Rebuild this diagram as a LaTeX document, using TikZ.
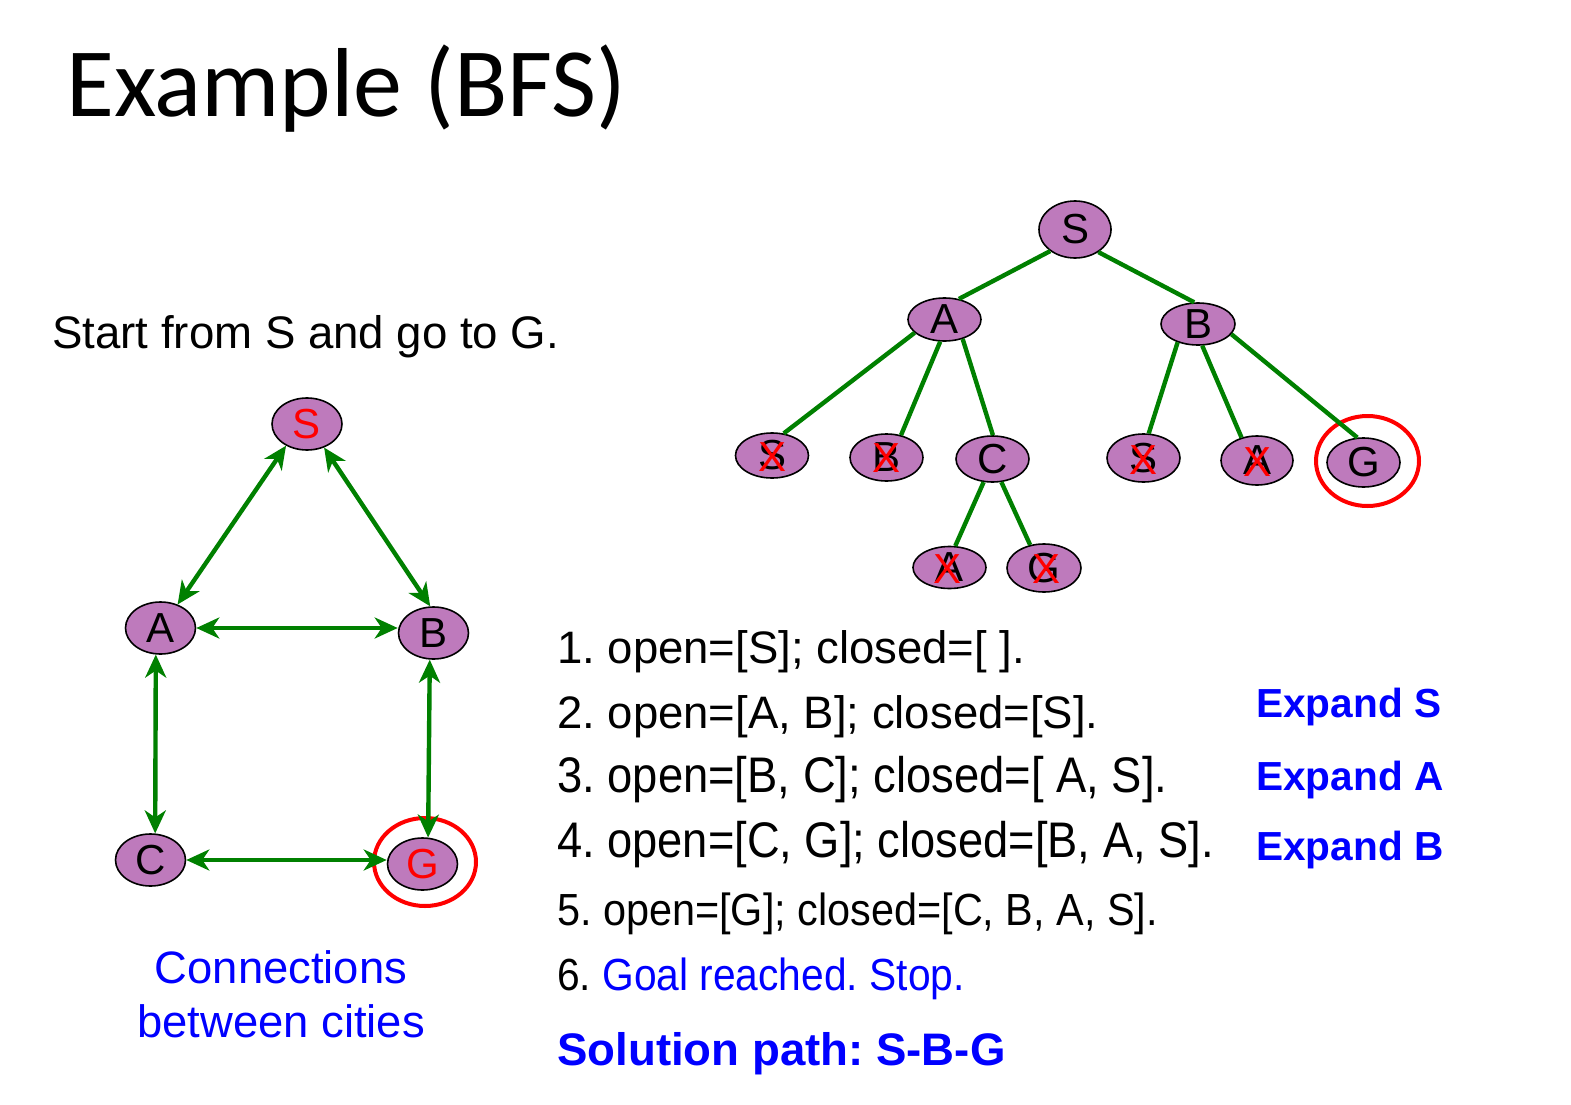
\documentclass[tikz,border=0pt]{standalone}
\usepackage{fontspec}
\usepackage{graphicx}
\setmainfont{Liberation Sans}
\newfontfamily\headfont{Carlito}
\usetikzlibrary{shapes.geometric,arrows.meta}
\definecolor{vfill}{RGB}{190,122,188}
\definecolor{edgegreen}{RGB}{0,128,0}
\definecolor{textblue}{RGB}{0,0,255}
\newcommand\fsz[1]{\fontsize{#1}{#1}\selectfont}
\frenchspacing

\begin{document}
\begin{tikzpicture}[x=1pt,y=-1pt,
  vertex/.style={ellipse, draw=black, line width=1.6pt, fill=vfill, inner sep=0pt, font=\fsz{42}},
  tedge/.style={draw=edgegreen, line width=4.4pt},
  link/.style={tedge, {Stealth[length=23pt,width=21pt,inset=7pt]}-{Stealth[length=23pt,width=21pt,inset=7pt]}},
  cross/.style={text=red, inner sep=0pt, font=\fsz{42}},
  ring/.style={ellipse, draw=red, line width=4pt, inner sep=0pt},
  txt/.style={anchor=base west, inner sep=0pt},
  capt/.style={anchor=base, inner sep=0pt, text=textblue, font=\fsz{45.4}},
  hint/.style={txt, text=textblue, font=\fsz{40.6}\bfseries},
]
\useasboundingbox (0,0) rectangle (1571,1105);

% heading and task
\node[txt, font=\headfont\fsz{98}] (title) at (66,117) {Example (BFS)};
\node[txt, font=\fsz{45.6}] (task) at (52,348) {Start from S and go to G.};

% ---- city map ----
\node[vertex, minimum width=70pt, minimum height=52pt, text=red] (gS) at (307,424) {S};
\node[vertex, minimum width=70pt, minimum height=52pt] (gA) at (160.5,628) {A};
\node[vertex, minimum width=70pt, minimum height=52pt] (gB) at (433.5,633) {B};
\node[vertex, minimum width=70pt, minimum height=52pt] (gC) at (150.5,860) {C};
\node[vertex, minimum width=70pt, minimum height=52pt, text=red] (gG) at (422.5,864) {G};
\node[ring, minimum width=102pt, minimum height=88pt] (ringL) at (425,862) {};

\draw[link] (gS.226) -- (gA.54);
\draw[link] (gS.306) -- (gB.97);
\draw[link] (gA.east) -- (gA.east -| gB.west);
\draw[link] (gA.260) -- (gC.80);
\draw[link] (gB.262) -- (gG.78);
\draw[link] (gC.east) -- (gC.east -| gG.west);

\node[capt] (cap1) at (281,983) {Connections};
\node[capt] (cap2) at (281,1037) {between cities};

% ---- search tree ----
\node[vertex, minimum width=72pt, minimum height=57pt] (tS) at (1075,229.5) {S};
\node[vertex, minimum width=73pt, minimum height=43pt] (tA) at (944.5,319.5) {A};
\node[vertex, minimum width=74pt, minimum height=42pt] (tB) at (1198,324) {B};
\node[vertex, minimum width=73pt, minimum height=45pt] (aS) at (772,455.5) {S};
\node[vertex, minimum width=73pt, minimum height=47pt] (aB) at (886.5,457.5) {B};
\node[vertex, minimum width=73pt, minimum height=46pt] (tC) at (992.5,459) {C};
\node[vertex, minimum width=73pt, minimum height=48pt] (bS) at (1143.5,458) {S};
\node[vertex, minimum width=72pt, minimum height=49pt] (bA) at (1257,460.5) {A};
\node[vertex, minimum width=73pt, minimum height=49pt] (tG) at (1363.5,462.5) {G};
\node[vertex, minimum width=73pt, minimum height=42pt] (cA) at (949.5,567.5) {A};
\node[vertex, minimum width=74pt, minimum height=48pt] (cG) at (1044,568) {G};
\node[ring, minimum width=103pt, minimum height=90pt] (ringR) at (1367.5,461) {};

\draw[tedge] (tS.221) -- (tA.55);
\draw[tedge] (tS.316) -- (tB.100);
\draw[tedge] (tA.204) -- (aS.62);
\draw[tedge] (tA.259) -- (aB.57);
\draw[tedge] (tA.313) -- (tC.89);
\draw[tedge] (tB.222) -- (bS.78);
\draw[tedge] (tB.281) -- (bA.124);
\draw[tedge] (tB.343) -- (tG.104);
\draw[tedge] (tC.249) -- (cA.75);
\draw[tedge] (tC.291) -- (cG.121);

% repeated states struck out
\node[cross] (xaS) at ([yshift=-1.5pt]aS.center) {X};
\node[cross] (xaB) at ([yshift=-1pt]aB.center) {X};
\node[cross] (xbS) at ([yshift=-2.5pt]bS.center) {X};
\node[cross] (xbA) at ([yshift=-2pt]bA.center) {X};
\node[cross] (xcA) at ([xshift=-2pt,yshift=-1.5pt]cA.center) {X};
\node[cross] (xcG) at ([xshift=2pt,yshift=-1pt]cG.center) {X};

% ---- trace of the search ----
\node[txt, font=\fsz{45.5}] (s1) at (557,663) {1. open=[S]; closed=[ ].};
\node[txt, font=\fsz{45.5}] (s2) at (557,728) {2. open=[A, B]; closed=[S].};
\node[txt, font=\fsz{50}] (s3) at (557,792) {\scalebox{0.907}[1]{3. open=[B, C]; closed=[ A, S].}};
\node[txt, font=\fsz{50}] (s4) at (557,857) {\scalebox{0.905}[1]{4. open=[C, G]; closed=[B, A, S].}};
\node[txt, font=\fsz{45}] (s5) at (557,925) {\scalebox{0.92}[1]{5. open=[G]; closed=[C, B, A, S].}};
\node[txt, font=\fsz{45}] (s6) at (557,990) {\scalebox{0.905}[1]{6. \textcolor{textblue}{Goal reached. Stop.}}};
\node[txt, text=textblue, font=\fsz{45.6}\bfseries] (sol) at (557,1065) {Solution path: S-B-G};

\node[hint] (e1) at (1256,717) {Expand S};
\node[hint] (e2) at (1256,790) {Expand A};
\node[hint] (e3) at (1256,860) {Expand B};
\end{tikzpicture}
\end{document}
